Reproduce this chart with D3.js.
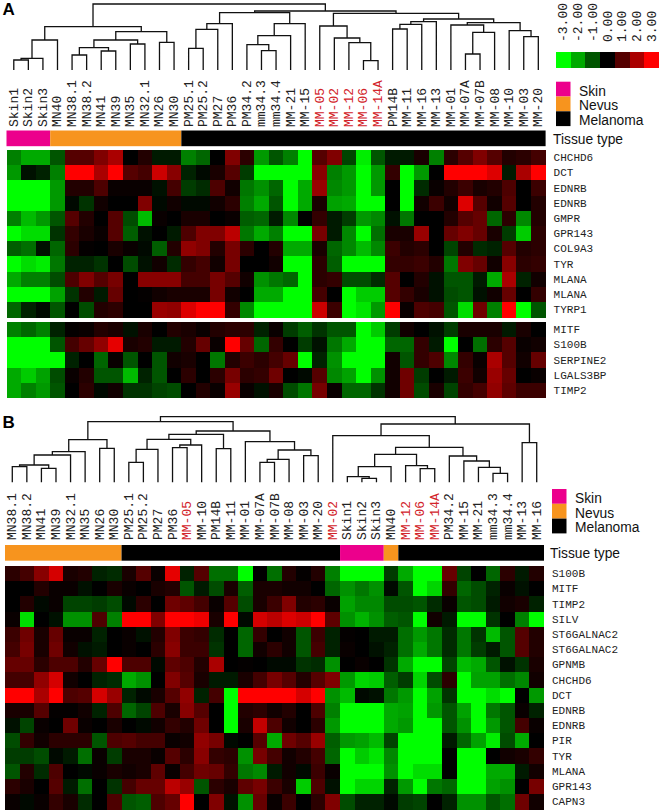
<!DOCTYPE html>
<html>
<head>
<meta charset="utf-8">
<script src="https://d3js.org/d3.v7.min.js"></script>
<style>
html, body { margin: 0; padding: 0; background: #fff; }
svg { display: block; }
</style>
</head>
<body>
<div id="chart"></div>
<script>
// Sample names, in the order of each heat map
var samplesA = ["Skin1","Skin2","Skin3","MN40","MN38.1","MN38.2","MN41","MN39","MN35","MN32.1","MN26","MN30",
  "PM25.1","PM25.2","PM27","PM36","PM34.2","mm34.3","mm34.4","MM-21","MM-15","MM-05","MM-02","MM-12","MM-06","MM-14A",
  "PM14B","MM-11","MM-16","MM-13","MM-01","MM-07A","MM-07B","MM-08","MM-10","MM-03","MM-20"];
var samplesB = ["MN38.1","MN38.2","MN41","MN39","MN32.1","MN35","MN26","MN30","PM25.1","PM25.2","PM27","PM36",
  "MM-05","MM-10","PM14B","MM-11","MM-01","MM-07A","MM-07B","MM-08","MM-03","MM-20","MM-02","Skin1","Skin2","Skin3","MN40",
  "MM-12","MM-06","MM-14A","PM34.2","MM-15","MM-21","mm34.3","mm34.4","MM-13","MM-16"];
var redSamples = ["MM-05","MM-02","MM-12","MM-06","MM-14A"];

var genesA1 = ["CHCHD6","DCT","EDNRB","EDNRB","GMPR","GPR143","COL9A3","TYR","MLANA","MLANA","TYRP1"];
var genesA2 = ["MITF","S100B","SERPINE2","LGALS3BP","TIMP2"];
var genesB = ["S100B","MITF","TIMP2","SILV","ST6GALNAC2","ST6GALNAC2","GPNMB","CHCHD6","DCT","EDNRB","EDNRB","PIR","TYR","MLANA","GPR143","CAPN3"];

// Expression values, one row per gene
var valuesA1 = [
  [-1.5,-2,-2,-1, 1,1,1.5,2,0,.4,-.3,-.3,-1.5,-1.2,0,1.5,.5,-1.8,-1, -1.5,-3,1,1.5,-.8,-2.8,-1,-.3,-.3,.3,-1.5,.5,1,1.5,1,.4,.5,.8],
  [-1.8,-.2,-.4,-1.5, 3,3,2,3,1,.8,2.4,1.6,-.4,-.1,.3,1,-.7,-3,-3, -3,-3,1.6,-1.5,-1.8,-3,-1.8,.6,-3,-1.8,0,3,3,3,2.6,-.3,2,3],
  [-3,-3,-3,-1.8, .4,.4,.9,.1,.1,.1,-.2,.8,-.7,-.5,.9,.2,-1.4,-1.7,-1.2, -3,-2,1.8,-1.6,-1.8,-3,-1.8,0,-3,-.5,.1,.4,.7,.3,.4,.9,0,.7],
  [-3,-3,-3,-1.8, -.1,-.6,.2,0,0,1.5,-.1,.2,-.1,-.1,.2,.5,-1.5,-2,-1, -3,-2,.3,-1.9,-2,-3,-3,0,-3,.2,.7,.2,2.6,1,.2,1,0,.4],
  [-1.5,-2.2,-1.8,-1, 1,.4,0,1,-.9,-2.2,.1,0,.3,.3,0,.1,-1.1,-1.2,-.3, -1.6,0,.6,-.3,-.7,-1.8,-1.6,-.2,-1.4,0,0,.4,1,1.2,-1.2,.5,-1.6,.4],
  [-3,-2.6,-2.6,-.6, .6,.3,.1,1,-1.1,-.2,0,-.3,.9,1.5,1.5,2.2,-1.4,-2,-1.5, -3,-3,1.4,-.3,-1.6,-3,-1.3,.3,.3,1.8,0,1.2,1.5,1.2,.3,-.7,-2.4,.5],
  [-1.1,-1.3,-.2,-1.2, .5,.05,0,.3,.1,-.1,-1.1,.4,1.7,1.5,.4,1.4,.5,0,.4, -2,-2,.3,-1.2,-1.6,-2.2,-1.6,.7,.4,.5,0,-.8,.4,-.5,-.4,1,.4,.5],
  [-3,-2.6,-2.8,-1.4, -.4,-.4,-.6,0,-.9,-.2,.2,-.5,.6,.8,.2,1.4,0,0,.2, -3,-3,.5,-1.1,-3,-3,-3,.6,.6,.7,.4,-1.4,1.5,1.2,.2,1.6,.5,.6],
  [-2,-1.5,-1.5,-.9, .9,1.5,1,1.4,0,1.6,1.6,1.6,.8,.8,1.4,1,.2,-1.7,-1.4, -1.2,-3,.5,.6,-.9,-.9,-.5,1,0,.4,-.2,-1,-1,-.3,-2,2,-.4,.2],
  [-3,-3,-3,-1.9, -.6,.4,-.3,1.2,0,.05,.2,.3,.3,.3,1.4,.2,0,-2,-2, -3,-3,.8,0,-3,-2.4,-2.4,1,.6,.3,-.2,-.9,-1,-.2,.2,1.2,0,.6],
  [-1.2,-.4,-.1,-1, 0,-.9,.4,.5,0,0,1.8,1.7,2.6,3,3,.6,-1.6,-3,-3, -3,-3,2.4,.7,-3,-2.7,-1.8,3,.1,.9,.8,-1,-2.6,1.3,-1.5,3,-3,-1]
];
var valuesA2 = [
  [-1.5,-1.2,-1.5,-.4, .05,.1,.4,.3,-.2,.3,0,.4,.3,.1,.4,.5,.5,-.4,.1, -.7,-1.1,-.6,-1,-1,-3,-2.4,-.7,.2,0,-.2,-.7,.3,.3,.3,-.3,.3,0],
  [-3,-3,-3,-1, .8,1.2,1.7,2.7,.3,.4,-.3,-.3,.4,1.2,.1,3,1.2,-1.2,.6, 0,-.7,-.2,-1.4,-2,-3,-3,-1.2,-1.2,.6,-.3,-3,0,-1.3,.5,1,.1,.2],
  [-3,-3,-3,-3, -.4,0,-1.2,.1,-1,0,-1,.2,.3,0,-1.4,.4,.7,.5,.8, 1.2,-3,-.4,-1.7,-3,-3,-3,.2,-1,.6,.9,-1.6,.6,.1,2,1,.2,1.2],
  [-2,-2.4,-1.9,-.9, .1,.4,-1,-1,-2.2,-.4,-1,0,.5,0,.5,1.4,.5,.6,1.3, 0,-.1,1,-1.6,-1.9,-3,-1.7,.2,1.3,-.7,0,-.3,.7,.2,1.8,1.2,0,.1],
  [-2,-1.5,-1.8,-1, 0,.5,-.1,.2,-.6,-.6,-.8,-.9,0,.4,.1,1.8,.1,-.2,.3, -.9,-1.4,1.4,.1,-1.2,-1.2,-.6,.2,1.3,-.9,.3,-.8,.6,.8,1.7,1.1,.7,.7]
];
var valuesB = [
  [.5,.8,1.6,2.5,.3,.4,-.4,-.5,.3,1,.1,2.7,-.4,1,-1.3,-1.3,-3,0,-1.3, .4,.05,.4,-1.5,-3,-3,-3,-.7,-2,-3,-3,1.2,-.8,0,-1.2,.5,-.3,.4],
  [0,0,.4,.1,.1,-.2,0,.3,.1,0,.3,.4,-1,-.3,-.9,.3,-1.1,.3,.3, .2,.2,0,-1.2,-1.7,-1.4,-1.7,-.1,-1,-3,-2.5,.6,-1.2,-.9,-.4,.1,-.2,0],
  [0,.4,-.1,.1,-.8,-.8,-.7,-.9,-.1,.5,0,1.3,1.1,.8,.1,1,-.9,.3,.7, 1.5,.4,.5,.1,-1.9,-1.6,-1.6,-.9,-.9,-1,-.5,.1,-1,-.9,-.3,.2,.3,-.4],
  [.1,-2.6,0,-.2,-1.7,-1.7,.9,-1.5,3,3,1.5,3,3,2.8,.3,3,-.1,2.5,2.2, 2.6,2.4,3,1.1,-1.7,-2.1,-1.7,-1.1,-1,-3,.2,-.3,-3,-3,-.6,0,-1.5,-3],
  [.7,1.3,.3,1.2,.1,.1,-.4,0,.1,-.2,.4,1.5,.7,.6,-.5,0,-1.2,.6,0, .2,-1,.7,-.4,.05,0,-.3,-.3,-1.3,-1.8,-1.4,-.5,-1.4,-.6,-2.2,-1,1,.4],
  [.8,1.4,.3,1.3,.2,-.2,-.3,0,.1,0,.5,1.6,.7,.7,-.6,0,-1.2,.2,.5, .2,-1,.8,-.4,.1,0,-.2,-.4,-1.3,-2,-1.4,-.5,-1.4,-.7,-.3,-1,1,.4],
  [1.2,1.2,.5,.9,.9,.4,1.2,3,.9,.9,-.1,1.1,.9,.4,2,0,.05,0,-.1, -.1,-.6,-.5,-1.7,0,.1,0,-.6,-2,-3,-3,-.8,-2.2,-2,-1,-.2,-.6,.3],
  [.8,.8,1.7,2.5,.2,0,-.4,-.5,-2,-1.7,0,1.5,1,.3,-.3,-.3,.3,.8,1.4, 1,.4,1,1.5,-1.8,-2.5,-2.4,-1.1,-.7,-2.5,-.9,.5,-3,-1.9,-1.9,-1.3,-1.6,.2],
  [3,3,2,3,.9,1,2.5,1.8,-.4,-.1,.3,1,1.7,-.4,.8,-3,3,3,3, 3,2.5,3,-1.7,-2.2,-.1,-.2,-1.4,-1.8,-3,-1.9,-.6,-3,-3,-2.6,-3,0,-1.8],
  [.3,.3,1,.05,.05,.2,-.4,.9,-1.2,-.8,.9,.3,1.6,1,0,-3,.4,.5,.2, .4,0,.9,-1.5,-3,-3,-3,-2,-1.9,-3,-1.8,-1,-1.9,-3,-1.4,-1,.1,-.4],
  [-.2,-.8,.1,0,1.3,.1,0,.3,0,-.1,.2,.6,.4,1.3,0,-3,.3,2.3,.9, .2,0,.5,-1.8,-3,-3,-3,-2,-1.8,-3,-3,-1,-1.7,-3,-1.8,-1,.8,.1],
  [-.9,.6,.2,.5,.5,.5,-1,.9,1,.8,.8,.1,.2,1.7,1.4,-.1,0,1,-2, 1.3,1,1.8,-1.1,-1.8,-1.9,-2.2,-.8,-3,-3,-3,-.3,-1.2,-1.9,-2.8,-.9,-2,0],
  [-.7,-.7,-.9,-.1,-.3,-1.3,.1,-.7,.3,.3,.1,1,.5,1.6,.6,.5,-1.7,1.4,.8, .2,.4,.8,-1.2,-3,-2.4,-2.7,-1.6,-3,-3,-3,0,-3,-3,0,.2,.3,.6],
  [-1,.4,-.5,.9,0,-.1,.1,.3,.2,.3,1.1,.1,.8,1.3,1.2,.6,-1.4,-1.6,-.3, .2,-.1,.7,.1,-3,-3,-3,-1.7,-3,-2.6,-2.6,0,-3,-3,-2,-2,-.3,.2],
  [.5,.3,0,1,-.3,-1.3,0,-.6,.8,1.2,1.2,2.2,1.8,-1,.5,.3,1.1,1.4,.7, .3,-2.4,.9,-.2,-3,-2.5,-2.5,-.4,-1.8,-3,-1.4,-1.2,-3,-3,-1.9,-1.7,0,1.4],
  [.1,-.1,.1,.6,.3,-.5,0,.9,-1,-1.1,.9,1.2,3,0,1.5,-.2,-1.7,1.2,.1, .7,0,.5,1.5,-.9,-.4,-.4,-.1,-.7,-.8,0,-.4,-1.7,-1.7,-1,-1.3,1.3,.2]
];

// Dendrograms: [merge height, left, right], a plain number is a column index
var treeA = [66,
  [43.3,
    [30,[11.7,[10,0,1],2],3],
    [38.3,[30,[22.3,[15,4,5],[19,6,7]],[26,8,9]],[27.7,10,11]]],
  [59,
    [57.3,
      [46.3,[40.7,[21.7,12,13],14],15],
      [46.3,[34.3,[25.3,16,[19.3,17,18]],19],20]],
    [56.7,
      [44,21,[32,22,[27.3,23,[9.3,24,25]]]],
      [51,
        [48.3,[45.7,[41,26,27],28],29],
        [47.3,[45,30,[37.7,[16,31,32],33]],[39.3,34,[33.3,35,36]]]]]]];
var treeB = [65.6,
  [60.6,
    [42.6,[30.6,[27.3,[17.3,[15.6,0,1],[14,2,3]],4],5],[34,6,7]],
    [51.3,
      [48,[43,[33,[20,8,9],10],[37.3,[34.6,11,12],13]],[33.6,14,15]],
      [40.6,16,[32.3,[23,[20,17,18],19],[26.6,20,21]]]]],
  [58.3,
    [46.6,22,
      [35,
        [28,[15.6,[5.6,23,[4,24,25]],26],[16.6,27,[13.6,28,29]]],
        [26.3,30,[21.3,31,[15,32,[9,33,34]]]]]],
    [39.6,35,36]]];

// Tissue of each column, given as runs [tissue, number of columns]
var tissueRunsA = [["Skin",3],["Nevus",9],["Melanoma",25]];
var tissueRunsB = [["Nevus",8],["Melanoma",15],["Skin",3],["Nevus",1],["Melanoma",10]];
var tissues = ["Skin","Nevus","Melanoma"];
var tissueColors = ["#ec008c","#f7941e","#000000"];
var keyValues = [-3,-2,-1,0,1,2,3];

var width = 662, height = 812;
var monoFont = "'Liberation Mono', monospace";
var sansFont = "'Liberation Sans', Arial, sans-serif";

var svg = d3.select("#chart").append("svg")
  .attr("width", width)
  .attr("height", height);

var color = d3.scaleLinear()
  .domain([-3, 0, 3])
  .range(["#00ff00", "#000000", "#ff0000"])
  .clamp(true);
var tissueColor = d3.scaleOrdinal().domain(tissues).range(tissueColors);

function drawHeat(g, values, genes, x, top) {
  var y = d3.scaleBand().domain(d3.range(genes.length)).range([top, top + genes.length * 15.2]);
  var rows = g.append("g").selectAll("g").data(values).enter().append("g");
  rows.selectAll("rect")
    .data(function(d, i) { return d.map(function(v, j) { return {v: v, c: j, r: i}; }); })
    .enter().append("rect")
    .attr("x", function(d) { return x(d.c); })
    .attr("y", function(d) { return y(d.r); })
    .attr("width", x.bandwidth() + 0.4)
    .attr("height", y.bandwidth() + 0.4)
    .attr("shape-rendering", "crispEdges")
    .attr("fill", function(d) { return color(d.v); });
  g.append("g").selectAll("text").data(genes).enter().append("text")
    .attr("x", x.range()[1] + 8)
    .attr("y", function(d, i) { return y(i) + y.bandwidth() / 2 + 3.5; })
    .attr("font-family", monoFont)
    .attr("font-size", 11)
    .attr("fill", "#222")
    .text(function(d) { return d; });
}

function drawTree(g, tree, x, bottom, top, maxH) {
  var y = d3.scaleLinear().domain([0, maxH]).range([bottom, top]);
  var root = d3.hierarchy(tree, function(d) { return Array.isArray(d) ? d.slice(1) : null; });
  var p = d3.path();
  root.eachAfter(function(n) {
    if (!n.children) {
      n.px = x(n.data) + x.bandwidth() / 2;
      n.py = bottom;
    } else {
      var a = n.children[0], b = n.children[1];
      n.px = (a.px + b.px) / 2;
      n.py = y(n.data[0]);
      p.moveTo(a.px, a.py);
      p.lineTo(a.px, n.py);
      p.lineTo(b.px, n.py);
      p.lineTo(b.px, b.py);
    }
  });
  g.append("path")
    .attr("d", p.toString())
    .attr("fill", "none")
    .attr("stroke", "#111")
    .attr("stroke-width", 1.3);
}

function drawSamples(g, samples, x, bottom) {
  g.append("g").selectAll("text").data(samples).enter().append("text")
    .attr("transform", function(d, i) {
      return "translate(" + (x(i) + x.bandwidth() / 2 + 4) + "," + bottom + ") rotate(-90)";
    })
    .attr("font-family", monoFont)
    .attr("font-size", 13)
    .attr("fill", function(d) { return redSamples.indexOf(d) >= 0 ? "#d2232a" : "#222"; })
    .text(function(d) { return d; });
}

function drawTissue(g, runs, x, top, h, labelX) {
  var c = 0;
  runs.forEach(function(run) {
    g.append("rect")
      .attr("x", x(c))
      .attr("y", top)
      .attr("width", x.bandwidth() * run[1])
      .attr("height", h)
      .attr("fill", tissueColor(run[0]));
    c += run[1];
  });
  g.append("text")
    .attr("x", labelX)
    .attr("y", top + h - 2.5)
    .attr("font-family", sansFont)
    .attr("font-size", 13.8)
    .attr("fill", "#111")
    .text("Tissue type");
}

function drawLegend(g, left, top) {
  var y = d3.scaleBand().domain(tissues).range([top, top + 44.4]);
  g.selectAll("rect.leg").data(tissues).enter().append("rect")
    .attr("class", "leg")
    .attr("x", left)
    .attr("y", function(d) { return y(d); })
    .attr("width", 14.5)
    .attr("height", y.bandwidth())
    .attr("fill", function(d) { return tissueColor(d); });
  g.selectAll("text.leg").data(tissues).enter().append("text")
    .attr("class", "leg")
    .attr("x", left + 23)
    .attr("y", function(d) { return y(d) + y.bandwidth() - 1; })
    .attr("font-family", sansFont)
    .attr("font-size", 13.8)
    .attr("fill", "#111")
    .text(function(d) { return d; });
}

function panelLetter(g, letter, px, py) {
  g.append("text")
    .attr("x", px)
    .attr("y", py)
    .attr("font-family", sansFont)
    .attr("font-size", 17)
    .attr("font-weight", "bold")
    .text(letter);
}

// Panel A
var a = svg.append("g");
var xA = d3.scaleBand().domain(d3.range(samplesA.length)).range([6.5, 545.6]);
panelLetter(a, "A", 2.5, 14.5);
drawTree(a, treeA, xA, 70, 4, 66);
drawSamples(a, samplesA, xA, 127);
drawTissue(a, tissueRunsA, xA, 130.5, 15.7, 553);
drawHeat(a, valuesA1, genesA1, xA, 150);
drawHeat(a, valuesA2, genesA2, xA, 322);
drawLegend(a, 556, 81.7);

// Color key
var key = svg.append("g");
var xKey = d3.scaleBand().domain(keyValues).range([556, 659]);
key.selectAll("rect").data(keyValues).enter().append("rect")
  .attr("x", function(d) { return xKey(d); })
  .attr("y", 52)
  .attr("width", xKey.bandwidth() + 0.4)
  .attr("height", 15.7)
  .attr("shape-rendering", "crispEdges")
  .attr("fill", function(d) { return color(d); });
key.selectAll("text").data(keyValues).enter().append("text")
  .attr("transform", function(d) {
    return "translate(" + (xKey(d) + xKey.bandwidth() / 2 + 4) + ",42) rotate(-90)";
  })
  .attr("font-family", monoFont)
  .attr("font-size", 13)
  .attr("fill", "#222")
  .text(function(d) { return d3.format(".2f")(d).replace("\u2212", "-"); });

// Panel B
var b = svg.append("g");
var xB = d3.scaleBand().domain(d3.range(samplesB.length)).range([5, 544]);
panelLetter(b, "B", 2.5, 427.5);
drawTree(b, treeB, xB, 482.3, 416.7, 65.6);
drawSamples(b, samplesB, xB, 540);
drawTissue(b, tissueRunsB, xB, 545, 15.7, 550);
drawHeat(b, valuesB, genesB, xB, 566);
drawLegend(b, 552, 489);
</script>
</body>
</html>
